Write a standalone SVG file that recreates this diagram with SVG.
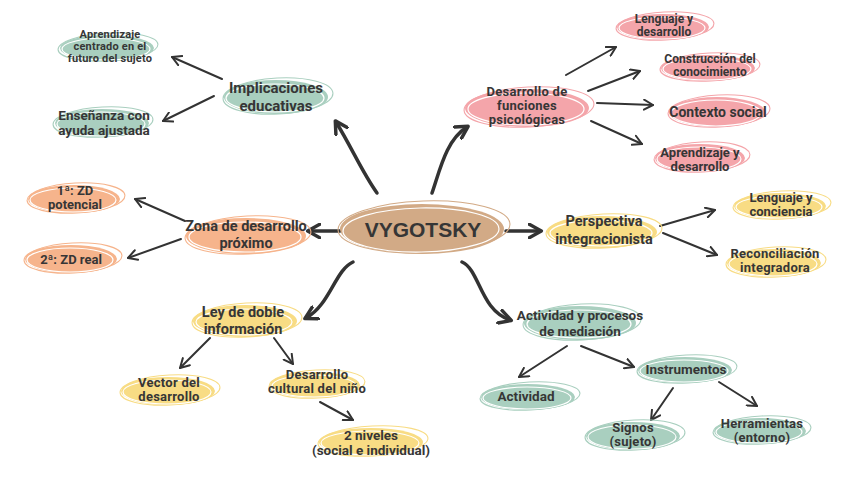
<svg xmlns="http://www.w3.org/2000/svg" width="848" height="477" viewBox="0 0 848 477">
<defs>
<marker id="ah" viewBox="0 0 12 12" refX="10" refY="6" markerWidth="12" markerHeight="12" markerUnits="userSpaceOnUse" orient="auto">
<path d="M1,1 L10,6 L1,11" fill="none" stroke="#333" stroke-width="2" stroke-linecap="round" stroke-linejoin="round"/>
</marker>
<marker id="ahb" viewBox="0 0 12 12" refX="9" refY="6" markerWidth="16" markerHeight="16" markerUnits="userSpaceOnUse" orient="auto">
<path d="M1,1 L10,6 L1,11" fill="none" stroke="#333" stroke-width="2.6" stroke-linecap="round" stroke-linejoin="round"/>
</marker>
<style>
text{font-family:Roboto,"Liberation Sans",sans-serif;font-weight:bold;fill:#363636;text-anchor:middle}
.g{fill:#a9cfbf}.gs{stroke:#a9cfbf}
.p{fill:#f4a5aa}.ps{stroke:#f4a5aa}
.o{fill:#f6b48c}.os{stroke:#f6b48c}
.y{fill:#f8dc84}.ys{stroke:#f8dc84}
.c{fill:#d2aa86}.cs{stroke:#d2aa86}
.w{fill:none;stroke:#fff;stroke-width:1.2}
.s{fill:none;stroke-width:1.1}
.a{fill:none;stroke:#333;stroke-width:2;stroke-linecap:round;marker-end:url(#ah)}
.b{fill:none;stroke:#333;stroke-width:3.5;stroke-linecap:round;marker-end:url(#ahb)}
.m{font-size:13px;letter-spacing:0.25px}
</style>
</defs>
<rect width="848" height="477" fill="#fff"/>

<g id="connectors">
<path class="b" d="M377,193 C362,172 352,148 336,122"/>
<path class="b" d="M432,193 C440,170 446,140 467,127"/>
<path class="b" d="M340,231 L309,231"/>
<path class="b" d="M506,231 L540,231"/>
<path class="b" d="M353,262 C335,270 330,305 306,318"/>
<path class="b" d="M462,262 C480,270 480,310 510,320"/>
<path class="a" d="M222,79 L172,57"/>
<path class="a" d="M214,96 L163,121"/>
<path class="a" d="M566,75 L616,47"/>
<path class="a" d="M588,91 L640,71"/>
<path class="a" d="M597,103 L653,105"/>
<path class="a" d="M591,121 L642,144"/>
<path class="a" d="M185,221 L135,199"/>
<path class="a" d="M181,239 L128,258"/>
<path class="a" d="M660,226 L715,210"/>
<path class="a" d="M663,233 L717,255"/>
<path class="a" d="M210,338 L180,368"/>
<path class="a" d="M274,338 L293,364"/>
<path class="a" d="M320,402 L353,420"/>
<path class="a" d="M567,346 L519,377"/>
<path class="a" d="M581,346 L634,367"/>
<path class="a" d="M673,388 L651,420"/>
<path class="a" d="M719,382 L757,406"/>
</g>

<g id="center">
<ellipse class="c" cx="422" cy="229" rx="82" ry="25"/>
<ellipse class="s cs" cx="424" cy="227" rx="86" ry="26" transform="rotate(-2 424 227)"/>
<ellipse class="w" cx="421" cy="230" rx="78" ry="22" transform="rotate(-1 421 230)"/>
<text x="423" y="237" style="font-size:21px;font-family:'Liberation Sans',Arial,sans-serif">VYGOTSKY</text>
</g>

<g id="implicaciones">
<ellipse class="g" cx="276" cy="97" rx="52" ry="17"/>
<ellipse class="s gs" cx="278" cy="96" rx="55" ry="18" transform="rotate(-3 278 96)"/>
<ellipse class="w" cx="275" cy="98" rx="49" ry="14"/>
<text style="font-size:15px" x="276" y="93">Implicaciones</text>
<text style="font-size:15px" x="276" y="111">educativas</text>
</g>
<g id="aprendizaje-futuro">
<ellipse class="g" cx="107" cy="48" rx="47" ry="13"/>
<ellipse class="s gs" cx="108" cy="47" rx="50" ry="14" transform="rotate(-3 108 47)"/>
<ellipse class="w" cx="106" cy="49" rx="44" ry="11"/>
<text style="font-size:11px;letter-spacing:0.2px" x="110" y="38">Aprendizaje</text>
<text style="font-size:11px;letter-spacing:0.2px" x="110" y="50">centrado en el</text>
<text style="font-size:11px;letter-spacing:0.2px" x="110" y="62">futuro del sujeto</text>
</g>
<g id="ensenanza">
<ellipse class="g" cx="102" cy="123" rx="47" ry="14"/>
<ellipse class="s gs" cx="103" cy="122" rx="50" ry="15" transform="rotate(-3 103 122)"/>
<ellipse class="w" cx="101" cy="124" rx="44" ry="12"/>
<text style="font-size:13.5px" x="104" y="120">Enseñanza con</text>
<text style="font-size:13.5px" x="104" y="135">ayuda ajustada</text>
</g>

<g id="desarrollo-funciones">
<ellipse class="p" cx="527" cy="108" rx="62" ry="19"/>
<ellipse class="s ps" cx="529" cy="107" rx="65" ry="20" transform="rotate(-3 529 107)"/>
<ellipse class="w" cx="526" cy="109" rx="58" ry="16"/>
<text class="m" x="527" y="96">Desarrollo de</text>
<text class="m" x="527" y="110">funciones</text>
<text class="m" x="527" y="124">psicológicas</text>
</g>
<g id="lenguaje-desarrollo">
<ellipse class="p" cx="663" cy="27" rx="46" ry="13"/>
<ellipse class="s ps" cx="665" cy="26" rx="49" ry="14" transform="rotate(-3 665 26)"/>
<ellipse class="w" cx="662" cy="28" rx="43" ry="11"/>
<text style="font-size:12px" x="664" y="23">Lenguaje y</text>
<text style="font-size:12px" x="664" y="36">desarrollo</text>
</g>
<g id="construccion">
<ellipse class="p" cx="708" cy="68" rx="47" ry="13"/>
<ellipse class="s ps" cx="710" cy="67" rx="50" ry="14" transform="rotate(-3 710 67)"/>
<ellipse class="w" cx="707" cy="69" rx="44" ry="11"/>
<text style="font-size:12px" x="710" y="63">Construcción del</text>
<text style="font-size:12px" x="710" y="76">conocimiento</text>
</g>
<g id="contexto">
<ellipse class="p" cx="717" cy="112" rx="48" ry="15"/>
<ellipse class="s ps" cx="719" cy="111" rx="51" ry="16" transform="rotate(-3 719 111)"/>
<ellipse class="w" cx="716" cy="113" rx="45" ry="13"/>
<text style="font-size:14px" x="718" y="117">Contexto social</text>
</g>
<g id="aprendizaje-desarrollo">
<ellipse class="p" cx="700" cy="158" rx="45" ry="14"/>
<ellipse class="s ps" cx="702" cy="157" rx="48" ry="15" transform="rotate(-3 702 157)"/>
<ellipse class="w" cx="699" cy="159" rx="42" ry="12"/>
<text style="font-size:13px" x="700" y="157">Aprendizaje y</text>
<text style="font-size:13px" x="700" y="171">desarrollo</text>
</g>

<g id="zona">
<ellipse class="o" cx="246" cy="236" rx="60" ry="18"/>
<ellipse class="s os" cx="248" cy="235" rx="63" ry="19" transform="rotate(-3 248 235)"/>
<ellipse class="w" cx="245" cy="237" rx="56" ry="15"/>
<text style="font-size:14.5px" x="246" y="231">Zona de desarrollo</text>
<text style="font-size:14.5px" x="246" y="248">próximo</text>
</g>
<g id="zd-potencial">
<ellipse class="o" cx="74" cy="199" rx="46" ry="14"/>
<ellipse class="s os" cx="76" cy="198" rx="49" ry="15" transform="rotate(-3 76 198)"/>
<ellipse class="w" cx="73" cy="200" rx="43" ry="12"/>
<text style="font-size:13px" x="75" y="195">1ª: ZD</text>
<text style="font-size:13px" x="75" y="209">potencial</text>
</g>
<g id="zd-real">
<ellipse class="o" cx="71" cy="259" rx="46" ry="14"/>
<ellipse class="s os" cx="73" cy="258" rx="49" ry="15" transform="rotate(-3 73 258)"/>
<ellipse class="w" cx="70" cy="260" rx="43" ry="12"/>
<text style="font-size:13px" x="71" y="264">2ª: ZD real</text>
</g>

<g id="perspectiva">
<ellipse class="y" cx="602" cy="232" rx="55" ry="16"/>
<ellipse class="s ys" cx="604" cy="231" rx="58" ry="17" transform="rotate(-3 604 231)"/>
<ellipse class="w" cx="601" cy="233" rx="51" ry="13"/>
<text style="font-size:14.5px" x="604" y="226">Perspectiva</text>
<text style="font-size:14.5px" x="604" y="244">integracionista</text>
</g>
<g id="lenguaje-conciencia">
<ellipse class="y" cx="780" cy="206" rx="46" ry="13"/>
<ellipse class="s ys" cx="782" cy="205" rx="49" ry="14" transform="rotate(-3 782 205)"/>
<ellipse class="w" cx="779" cy="207" rx="43" ry="11"/>
<text style="font-size:13px" x="781" y="202">Lenguaje y</text>
<text style="font-size:13px" x="781" y="216">conciencia</text>
</g>
<g id="reconciliacion">
<ellipse class="y" cx="774" cy="263" rx="47" ry="14"/>
<ellipse class="s ys" cx="776" cy="262" rx="50" ry="15" transform="rotate(-3 776 262)"/>
<ellipse class="w" cx="773" cy="264" rx="44" ry="12"/>
<text class="m" x="775" y="258">Reconciliación</text>
<text class="m" x="775" y="272">integradora</text>
</g>

<g id="ley">
<ellipse class="y" cx="245" cy="321" rx="52" ry="16"/>
<ellipse class="s ys" cx="247" cy="320" rx="55" ry="17" transform="rotate(-3 247 320)"/>
<ellipse class="w" cx="244" cy="322" rx="48" ry="13"/>
<text style="font-size:14.5px" x="243" y="317">Ley de doble</text>
<text style="font-size:14.5px" x="243" y="334">información</text>
</g>
<g id="vector">
<ellipse class="y" cx="168" cy="391" rx="47" ry="14"/>
<ellipse class="s ys" cx="170" cy="390" rx="50" ry="15" transform="rotate(-3 170 390)"/>
<ellipse class="w" cx="167" cy="392" rx="44" ry="12"/>
<text class="m" x="169" y="387">Vector del</text>
<text class="m" x="169" y="401">desarrollo</text>
</g>
<g id="cultural">
<ellipse class="y" cx="315" cy="385" rx="45" ry="13"/>
<ellipse class="s ys" cx="317" cy="384" rx="48" ry="14" transform="rotate(-3 317 384)"/>
<ellipse class="w" cx="314" cy="386" rx="42" ry="11"/>
<text class="m" x="317" y="379">Desarrollo</text>
<text class="m" x="317" y="393">cultural del niño</text>
</g>
<g id="niveles">
<ellipse class="y" cx="371" cy="442" rx="52" ry="14"/>
<ellipse class="s ys" cx="373" cy="441" rx="55" ry="15" transform="rotate(-3 373 441)"/>
<ellipse class="w" cx="370" cy="443" rx="49" ry="12"/>
<text style="font-size:13.5px" x="371" y="440">2 niveles</text>
<text style="font-size:13.5px" x="371" y="455">(social e individual)</text>
</g>

<g id="actividad-procesos">
<ellipse class="g" cx="580" cy="323" rx="56" ry="17"/>
<ellipse class="s gs" cx="582" cy="322" rx="59" ry="18" transform="rotate(-3 582 322)"/>
<ellipse class="w" cx="579" cy="324" rx="52" ry="14"/>
<text style="font-size:13.5px" x="580" y="320">Actividad y procesos</text>
<text style="font-size:13.5px" x="580" y="336">de mediación</text>
</g>
<g id="instrumentos">
<ellipse class="g" cx="685" cy="370" rx="47" ry="13"/>
<ellipse class="s gs" cx="687" cy="369" rx="50" ry="14" transform="rotate(-3 687 369)"/>
<ellipse class="w" cx="684" cy="371" rx="44" ry="11"/>
<text style="font-size:13.5px" x="686" y="374">Instrumentos</text>
</g>
<g id="actividad">
<ellipse class="g" cx="528" cy="397" rx="47" ry="13"/>
<ellipse class="s gs" cx="530" cy="396" rx="50" ry="14" transform="rotate(-3 530 396)"/>
<ellipse class="w" cx="527" cy="398" rx="44" ry="11"/>
<text style="font-size:13.5px" x="526" y="401">Actividad</text>
</g>
<g id="signos">
<ellipse class="g" cx="633" cy="436" rx="47" ry="14"/>
<ellipse class="s gs" cx="635" cy="435" rx="50" ry="15" transform="rotate(-3 635 435)"/>
<ellipse class="w" cx="632" cy="437" rx="44" ry="12"/>
<text class="m" x="633" y="432">Signos</text>
<text class="m" x="633" y="446">(sujeto)</text>
</g>
<g id="herramientas">
<ellipse class="g" cx="760" cy="431" rx="46" ry="13"/>
<ellipse class="s gs" cx="762" cy="430" rx="49" ry="14" transform="rotate(-3 762 430)"/>
<ellipse class="w" cx="759" cy="432" rx="43" ry="11"/>
<text class="m" x="762" y="428">Herramientas</text>
<text class="m" x="762" y="442">(entorno)</text>
</g>
</svg>
